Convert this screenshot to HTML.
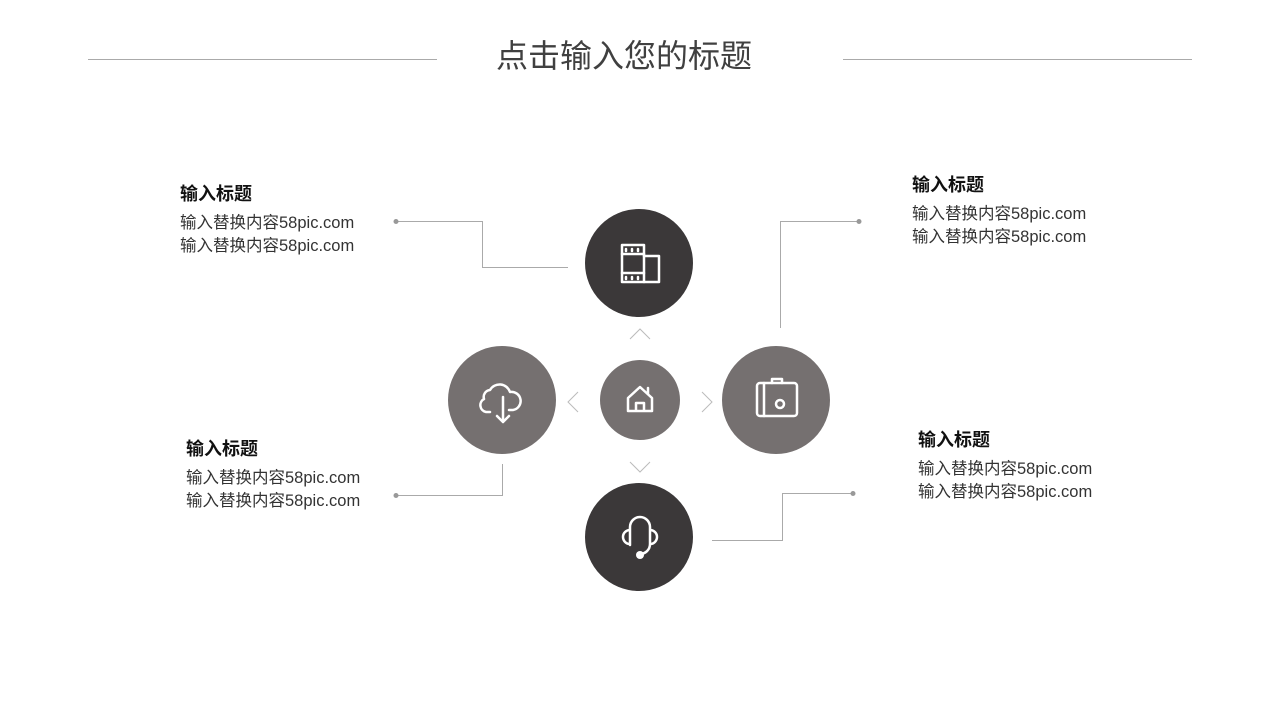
<!DOCTYPE html>
<html><head><meta charset="utf-8"><style>
body{margin:0;width:1280px;height:720px;background:#fff;position:relative;overflow:hidden;font-family:"Liberation Sans","Noto Sans CJK SC",sans-serif}
.t{position:absolute;color:#111}
.t b{display:block;font-size:18px;line-height:22px;margin-bottom:7px}
.t span{display:block;font-size:16.5px;line-height:23px;color:#333}
</style></head><body>
<div style="position:absolute;left:0;width:1280px;top:34px;text-align:center;font-size:32px;color:#404040;line-height:44px"><span style="position:relative;left:-16px">点击输入您的标题</span></div>
<svg width="1280" height="720" style="position:absolute;left:0;top:0">
<g stroke="#aaa" stroke-width="1" fill="none">
<line x1="88" y1="59.5" x2="437" y2="59.5"/><line x1="843" y1="59.5" x2="1192" y2="59.5"/>
<polyline points="396,221.5 482.5,221.5 482.5,267.5 568,267.5"/>
<polyline points="859,221.5 780.5,221.5 780.5,328"/>
<polyline points="396,495.5 502.5,495.5 502.5,464"/>
<polyline points="853,493.5 782.5,493.5 782.5,540.5 712,540.5"/>
<g stroke="#bbb"><polyline points="630,339 640,329 650,339"/><polyline points="630,462 640,472 650,462"/>
<polyline points="578,392 568,402 578,412"/><polyline points="702,392 712,402 702,412"/></g>
</g>
<g fill="#999"><circle cx="396" cy="221.5" r="2.5"/><circle cx="859" cy="221.5" r="2.5"/><circle cx="396" cy="495.5" r="2.5"/><circle cx="853" cy="493.5" r="2.5"/></g>
<circle cx="639" cy="263" r="54" fill="#3b3839"/>
<circle cx="639" cy="537" r="54" fill="#3b3839"/>
<circle cx="502" cy="400" r="54" fill="#757070"/>
<circle cx="776" cy="400" r="54" fill="#757070"/>
<circle cx="640" cy="400" r="40" fill="#757070"/>
<g stroke="#fff" stroke-width="2.5" fill="none" stroke-linejoin="round" stroke-linecap="round">
<rect x="622" y="245" width="22" height="37"/><path d="M644 256h15v26h-15M622 254h22M622 273h22"/>
<path d="M626 249v2M632 249v2M638 249v2M626 277v2M632 277v2M638 277v2"/>
<path d="M628 411v-13l12-11 12 11v13zM636 411v-8h8v8M648 388v6"/>
<rect x="757" y="383" width="40" height="33" rx="3"/><path d="M764 383v33M772 383v-4h10v4"/><circle cx="780" cy="404" r="4"/>
<path d="M490 412h-4a7 7 0 0 1 -2-13a7 7 0 0 1 6-9a11 11 0 0 1 20 2a9 9 0 0 1 3 18h-4M503 397v25M497 416l6 6 6-6"/>
<path d="M630 545v-18a10 10 0 0 1 20 0v18M630 530a7 7 0 0 0 0 14M650 530a7 7 0 0 1 0 14M650 544a10 10 0 0 1 -10 10"/>
</g>
<circle cx="640" cy="555" r="4" fill="#fff"/>
</svg>
<div class="t" style="left:180px;top:183px"><b>输入标题</b><span>输入替换内容58pic.com</span><span>输入替换内容58pic.com</span></div>
<div class="t" style="left:912px;top:174px"><b>输入标题</b><span>输入替换内容58pic.com</span><span>输入替换内容58pic.com</span></div>
<div class="t" style="left:186px;top:438px"><b>输入标题</b><span>输入替换内容58pic.com</span><span>输入替换内容58pic.com</span></div>
<div class="t" style="left:918px;top:429px"><b>输入标题</b><span>输入替换内容58pic.com</span><span>输入替换内容58pic.com</span></div>
</body></html>
